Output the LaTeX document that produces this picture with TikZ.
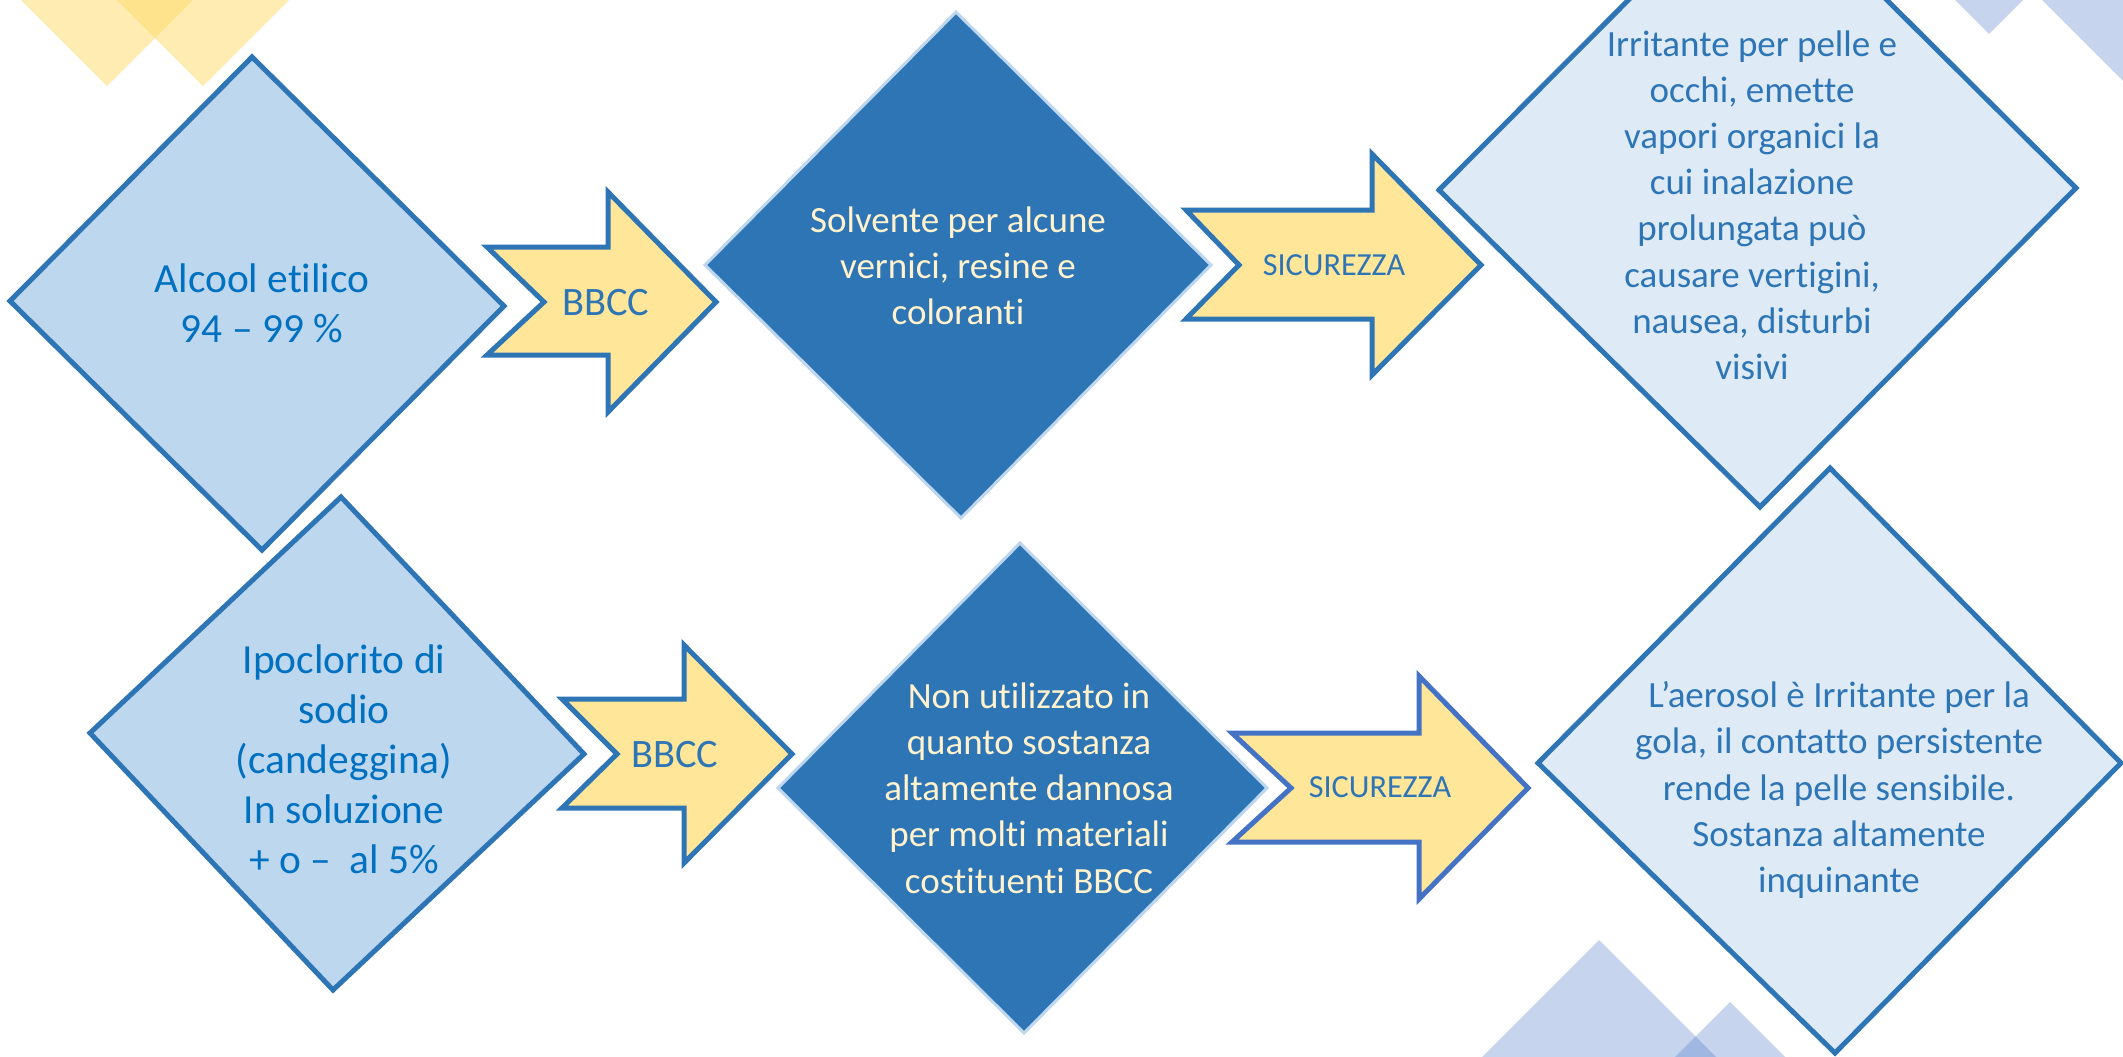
\documentclass[tikz,border=0pt]{standalone}
\usepackage{fontspec}
\setmainfont{Carlito}[Ligatures=NoCommon]
\definecolor{bdr}{HTML}{2E75B6}
\definecolor{bdrB}{HTML}{4472C4}
\definecolor{lightfill}{HTML}{BDD7EE}
\definecolor{palefill}{HTML}{DEEBF7}
\definecolor{darkfill}{HTML}{2E75B6}
\definecolor{arrfill}{HTML}{FFE699}
\definecolor{txtA}{HTML}{0070C0}
\definecolor{txtB}{HTML}{2E75B6}
\definecolor{cream}{HTML}{FFF2CC}
\definecolor{decoY}{HTML}{FFD966}
\definecolor{decoB}{HTML}{4472C4}
\begin{document}
\begin{tikzpicture}[x=0.5pt,y=-0.5pt,
  lightdiam/.style={draw=bdr,line width=2.5pt,fill=lightfill},
  palediam/.style={draw=bdr,line width=2.5pt,fill=palefill},
  darkdiam/.style={draw=lightfill,line width=1.5pt,fill=darkfill},
  arrowshape/.style={draw=bdr,line width=2.5pt,fill=arrfill},
  txt/.style={align=center,inner sep=0pt},
  bigfont/.style={font=\fontsize{20.7}{25}\selectfont},
  midfont/.style={font=\fontsize{18.5}{23.1}\selectfont},
  decoyellow/.style={fill=decoY,fill opacity=0.5,draw=none},
  decoblue/.style={fill=decoB,fill opacity=0.3,draw=none}]
\useasboundingbox (0,0) rectangle (2123,1056);
\clip (0,0) rectangle (2123,1056);
% decorations
\fill[decoyellow] (107,86) -- (20,-1) -- (194,-1) -- cycle;
\fill[decoyellow] (203,86) -- (116,-1) -- (290,-1) -- cycle;
\fill[decoblue] (1989,34) -- (1954,-1) -- (2024,-1) -- cycle;
\fill[decoblue] (2041,-1) -- (2200,-1) -- (2200,158) -- cycle;
\fill[decoblue] (1599,940) -- (1482,1057) -- (1716,1057) -- cycle;
\fill[decoblue] (1730,1002) -- (1675,1057) -- (1785,1057) -- cycle;
% top row
\draw[lightdiam] (10,301) -- (252,57) -- (504,306) -- (262,550) -- cycle;
\node[txt,bigfont,text=txtA] (alcool) at (262,303) {Alcool etilico\\94 – 99 \%};
\draw[arrowshape] (487,247) -- (608,247) -- (608,192) -- (716,302) -- (608,412) -- (608,355) -- (487,355) -- (544,302) -- cycle;
\node[txt,font=\fontsize{20.2}{24}\selectfont,text=txtB,anchor=base] (bbcc1) at (606,315) {BBCC};
\draw[darkdiam] (705,265) -- (956,12) -- (1211,265) -- (961,518) -- cycle;
\node[txt,midfont,text=cream] (solv) at (958,266) {Solvente per alcune\\vernici, resine e\\coloranti};
\draw[arrowshape] (1186,210) -- (1372,210) -- (1372,154) -- (1481,265) -- (1372,375) -- (1372,319) -- (1186,319) -- (1239,265) -- cycle;
\node[txt,font=\fontsize{16.1}{19}\selectfont,text=txtB,anchor=base] (sic1) at (1334,275) {SICUREZZA};
\draw[palediam] (1439,190) -- (1757,-129) -- (2076,188) -- (1760,507) -- cycle;
\node[txt,midfont,text=txtB] (irrit) at (1752,205) {Irritante per pelle e\\occhi, emette\\vapori organici la\\cui inalazione\\prolungata può\\causare vertigini,\\nausea, disturbi\\visivi};
% bottom row
\draw[lightdiam] (90,733) -- (341,497) -- (584,754) -- (333,990) -- cycle;
\node[txt,bigfont,text=txtA] (ipo) at (344,759) {Ipoclorito di\\sodio\\(candeggina)\\In soluzione\\+ o –\ \ al 5\%};
\draw[arrowshape] (562,699) -- (684,699) -- (684,645) -- (792,754) -- (684,863) -- (684,808) -- (562,808) -- (617,754) -- cycle;
\node[txt,font=\fontsize{20.2}{24}\selectfont,text=txtB,anchor=base] (bbcc2) at (675,767) {BBCC};
\draw[darkdiam] (778,788) -- (1020,543) -- (1267,788) -- (1024,1033) -- cycle;
\node[txt,midfont,text=cream] (nonut) at (1029,788) {Non utilizzato in\\quanto sostanza\\altamente dannosa\\per molti materiali\\costituenti BBCC};
\draw[arrowshape,draw=bdrB] (1232,733) -- (1419,733) -- (1419,676) -- (1528,788) -- (1419,899) -- (1419,842) -- (1232,842) -- (1291,788) -- cycle;
\node[txt,font=\fontsize{16.1}{19}\selectfont,text=txtB,anchor=base] (sic2) at (1380,797) {SICUREZZA};
\draw[palediam] (1538,763) -- (1830,468) -- (2121,763) -- (1835,1053) -- cycle;
\node[txt,midfont,text=txtB] (aeros) at (1839,790) {L’aerosol è Irritante per la\\gola, il contatto persistente\\rende la pelle sensibile.\\Sostanza altamente\\inquinante};
\end{tikzpicture}
\end{document}
